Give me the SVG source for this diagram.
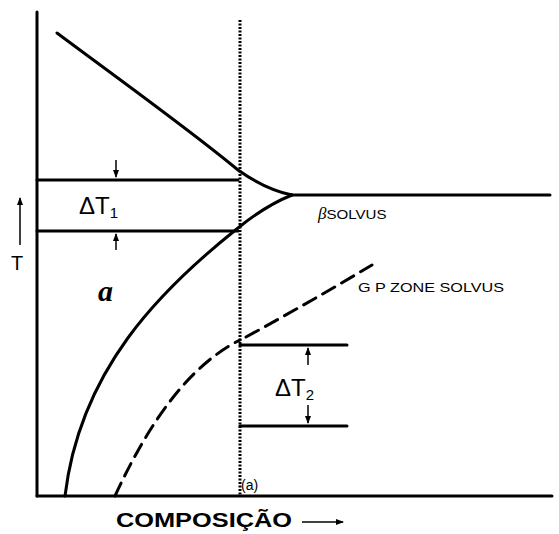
<svg xmlns="http://www.w3.org/2000/svg" width="559" height="534" viewBox="0 0 559 534">
<style>
.ln{fill:none;stroke:#000;stroke-width:3;stroke-linecap:round}
.thin{fill:none;stroke:#000;stroke-width:1.5}
.t{font-family:"Liberation Sans",Arial,sans-serif;fill:#000}
</style>
<defs>
<marker id="ah" markerWidth="8" markerHeight="8" refX="7" refY="4" orient="auto" markerUnits="userSpaceOnUse">
<path d="M0,1 L8,4 L0,7 Z" fill="#000"/>
</marker>
</defs>
<rect width="559" height="534" fill="#fff"/>
<g id="axes">
<line class="ln" x1="37" y1="12" x2="37" y2="496"/>
<line class="ln" x1="37" y1="496" x2="552" y2="496"/>
</g>
<g id="composition-line">
<line x1="240" y1="20" x2="240" y2="496" stroke="#000" stroke-width="3" stroke-dasharray="2 1.5"/>
</g>
<g id="connectors">
<path class="ln" d="M57,33 C120,80 190,130 238,170 C255,182 272,191 292,195"/>
<path class="ln" d="M292,195 C272,203 254,215 238,228 C160,290 80,370 65,496"/>
<line class="ln" x1="292" y1="195" x2="550" y2="195"/>
<path class="ln" d="M115,496 C150,420 190,365 240,340" stroke-dasharray="14 8"/>
<path class="ln" d="M246,337 C290,313 330,290 372,265" stroke-dasharray="14 8"/>
<line class="ln" x1="37" y1="180" x2="238" y2="180"/>
<line class="ln" x1="37" y1="231" x2="238" y2="231"/>
<line class="ln" x1="240" y1="345" x2="347" y2="345"/>
<line class="ln" x1="240" y1="426" x2="347" y2="426"/>
<line class="thin" x1="116" y1="160" x2="116" y2="177" marker-end="url(#ah)"/>
<line class="thin" x1="116" y1="250" x2="116" y2="234" marker-end="url(#ah)"/>
<line class="thin" x1="308" y1="365" x2="308" y2="348" marker-end="url(#ah)"/>
<line class="thin" x1="308" y1="405" x2="308" y2="423" marker-end="url(#ah)"/>
<line class="thin" x1="20" y1="245" x2="20" y2="198" marker-end="url(#ah)"/>
<line class="thin" x1="302" y1="522" x2="343" y2="522" marker-end="url(#ah)"/>
</g>
<g id="labels">
<text class="t" x="79" y="214" font-size="24">ΔT<tspan font-size="15" dy="4">1</tspan></text>
<text class="t" x="11" y="270" font-size="20">T</text>
<text x="98" y="301" font-family="Liberation Serif,serif" font-style="italic" font-weight="bold" font-size="30" fill="#000">a</text>
<text class="t" x="318" y="219" font-size="13"><tspan font-family="Liberation Serif,serif" font-style="italic" font-size="17">β</tspan><tspan textLength="60" lengthAdjust="spacingAndGlyphs">SOLVUS</tspan></text>
<text class="t" x="358" y="292" font-size="12" textLength="146" lengthAdjust="spacingAndGlyphs">G P ZONE SOLVUS</text>
<text class="t" x="275" y="396" font-size="24">ΔT<tspan font-size="15" dy="4">2</tspan></text>
<text class="t" x="241" y="490" font-size="14">(a)</text>
<text class="t" x="116" y="527" font-size="21" font-weight="bold" textLength="176" lengthAdjust="spacingAndGlyphs">COMPOSIÇÃO</text>
</g>
</svg>
